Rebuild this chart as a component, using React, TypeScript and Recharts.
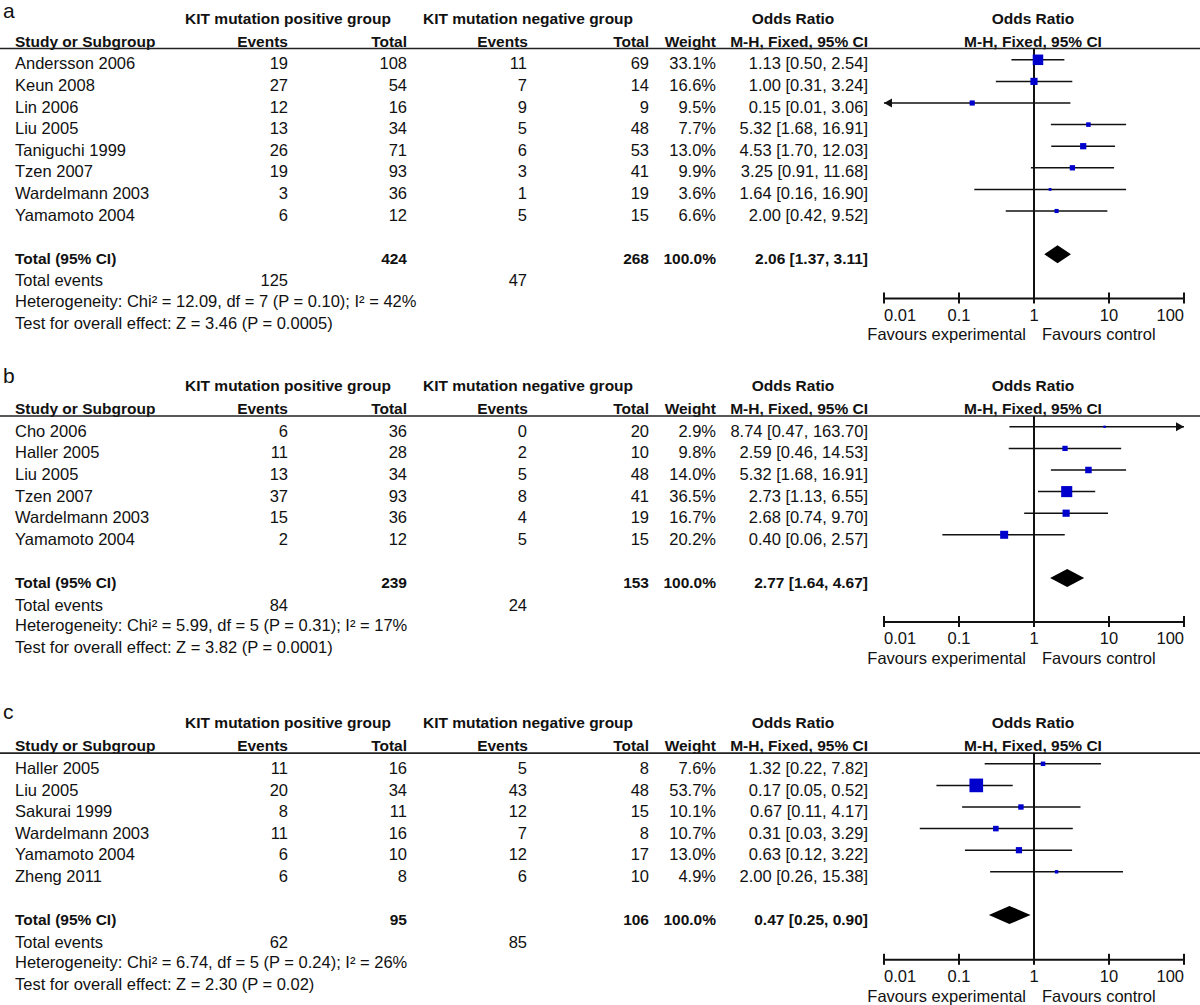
import React from 'react';
import {
  ScatterChart,
  Scatter,
  XAxis,
  YAxis,
  ReferenceLine,
  ReferenceArea,
  ReferenceDot,
} from 'recharts';

// ---------------- DATA ----------------
const AXIS_TICKS = [0.01, 0.1, 1, 10, 100];

// Panel a
const STUDIES_A = ['Andersson 2006', 'Keun 2008', 'Lin 2006', 'Liu 2005', 'Taniguchi 1999', 'Tzen 2007', 'Wardelmann 2003', 'Yamamoto 2004'];
const POS_EVENTS_A = [19, 27, 12, 13, 26, 19, 3, 6];
const POS_TOTAL_A = [108, 54, 16, 34, 71, 93, 36, 12];
const NEG_EVENTS_A = [11, 7, 9, 5, 6, 3, 1, 5];
const NEG_TOTAL_A = [69, 14, 9, 48, 53, 41, 19, 15];
const WEIGHT_A = [33.1, 16.6, 9.5, 7.7, 13.0, 9.9, 3.6, 6.6];
const OR_A = [1.13, 1.0, 0.15, 5.32, 4.53, 3.25, 1.64, 2.0];
const LO_A = [0.5, 0.31, 0.01, 1.68, 1.7, 0.91, 0.16, 0.42];
const HI_A = [2.54, 3.24, 3.06, 16.91, 12.03, 11.68, 16.9, 9.52];
const TOTALS_A = [424, 268];
const TOTAL_EVENTS_A = [125, 47];
const POOLED_A = [2.06, 1.37, 3.11];
const HETERO_A = 'Heterogeneity: Chi\u00B2 = 12.09, df = 7 (P = 0.10); I\u00B2 = 42%';
const EFFECT_A = 'Test for overall effect: Z = 3.46 (P = 0.0005)';

// Panel b
const STUDIES_B = ['Cho 2006', 'Haller 2005', 'Liu 2005', 'Tzen 2007', 'Wardelmann 2003', 'Yamamoto 2004'];
const POS_EVENTS_B = [6, 11, 13, 37, 15, 2];
const POS_TOTAL_B = [36, 28, 34, 93, 36, 12];
const NEG_EVENTS_B = [0, 2, 5, 8, 4, 5];
const NEG_TOTAL_B = [20, 10, 48, 41, 19, 15];
const WEIGHT_B = [2.9, 9.8, 14.0, 36.5, 16.7, 20.2];
const OR_B = [8.74, 2.59, 5.32, 2.73, 2.68, 0.4];
const LO_B = [0.47, 0.46, 1.68, 1.13, 0.74, 0.06];
const HI_B = [163.7, 14.53, 16.91, 6.55, 9.7, 2.57];
const TOTALS_B = [239, 153];
const TOTAL_EVENTS_B = [84, 24];
const POOLED_B = [2.77, 1.64, 4.67];
const HETERO_B = 'Heterogeneity: Chi\u00B2 = 5.99, df = 5 (P = 0.31); I\u00B2 = 17%';
const EFFECT_B = 'Test for overall effect: Z = 3.82 (P = 0.0001)';

// Panel c
const STUDIES_C = ['Haller 2005', 'Liu 2005', 'Sakurai 1999', 'Wardelmann 2003', 'Yamamoto 2004', 'Zheng 2011'];
const POS_EVENTS_C = [11, 20, 8, 11, 6, 6];
const POS_TOTAL_C = [16, 34, 11, 16, 10, 8];
const NEG_EVENTS_C = [5, 43, 12, 7, 12, 6];
const NEG_TOTAL_C = [8, 48, 15, 8, 17, 10];
const WEIGHT_C = [7.6, 53.7, 10.1, 10.7, 13.0, 4.9];
const OR_C = [1.32, 0.17, 0.67, 0.31, 0.63, 2.0];
const LO_C = [0.22, 0.05, 0.11, 0.03, 0.12, 0.26];
const HI_C = [7.82, 0.52, 4.17, 3.29, 3.22, 15.38];
const TOTALS_C = [95, 106];
const TOTAL_EVENTS_C = [62, 85];
const POOLED_C = [0.47, 0.25, 0.9];
const HETERO_C = 'Heterogeneity: Chi\u00B2 = 6.74, df = 5 (P = 0.24); I\u00B2 = 26%';
const EFFECT_C = 'Test for overall effect: Z = 2.30 (P = 0.02)';

// ---------------- LAYOUT ----------------
const PITCH = 21.6;
const X_MIN = 0.01;
const X_MAX = 100;
const FONT = '"Liberation Sans", Arial, Helvetica, sans-serif';
const TXT = '#111';
const BLUE = '#0000CC';
const REG = 16.5;
const BOLD = 15.5;

const COL = {
  name: 15,
  posEv: 288,
  posTot: 407,
  negEv: 527,
  negTot: 649,
  weight: 716,
  ci: 868,
  posHead: 288,
  negHead: 528,
  orHead: 793,
  plotHead: 1033,
};

type Panel = {
  letter: string;
  letterY: number;
  top: number;
  axisY: number;
  studies: string[];
  posEv: number[];
  posTot: number[];
  negEv: number[];
  negTot: number[];
  weight: number[];
  or: number[];
  lo: number[];
  hi: number[];
  totals: number[];
  totalEvents: number[];
  pooled: number[];
  hetero: string;
  effect: string;
};

const PANELS: Panel[] = [
  { letter: 'a', letterY: 18, top: 18, axisY: 298, studies: STUDIES_A, posEv: POS_EVENTS_A, posTot: POS_TOTAL_A, negEv: NEG_EVENTS_A, negTot: NEG_TOTAL_A, weight: WEIGHT_A, or: OR_A, lo: LO_A, hi: HI_A, totals: TOTALS_A, totalEvents: TOTAL_EVENTS_A, pooled: POOLED_A, hetero: HETERO_A, effect: EFFECT_A },
  { letter: 'b', letterY: 383, top: 385.5, axisY: 622, studies: STUDIES_B, posEv: POS_EVENTS_B, posTot: POS_TOTAL_B, negEv: NEG_EVENTS_B, negTot: NEG_TOTAL_B, weight: WEIGHT_B, or: OR_B, lo: LO_B, hi: HI_B, totals: TOTALS_B, totalEvents: TOTAL_EVENTS_B, pooled: POOLED_B, hetero: HETERO_B, effect: EFFECT_B },
  { letter: 'c', letterY: 719, top: 722.7, axisY: 960, studies: STUDIES_C, posEv: POS_EVENTS_C, posTot: POS_TOTAL_C, negEv: NEG_EVENTS_C, negTot: NEG_TOTAL_C, weight: WEIGHT_C, or: OR_C, lo: LO_C, hi: HI_C, totals: TOTALS_C, totalEvents: TOTAL_EVENTS_C, pooled: POOLED_C, hetero: HETERO_C, effect: EFFECT_C },
];

const f2 = (v: number) => v.toFixed(2);
const ciText = (o: number, l: number, h: number) => `${f2(o)} [${f2(l)}, ${f2(h)}]`;
const firstRowOf = (p: Panel) => p.top + 41.3;

// ---------------- TEXT LAYER ----------------
function T(props: any) {
  const { x, y, anchor = 'start', bold = false, size, children } = props;
  return (
    <text
      x={x}
      y={y}
      textAnchor={anchor}
      fontFamily={FONT}
      fontSize={size ?? (bold ? BOLD : REG)}
      fontWeight={bold ? 'bold' : 'normal'}
      fill={TXT}
    >
      {children}
    </text>
  );
}

function PanelText({ p }: { p: Panel }) {
  const r0 = firstRowOf(p);
  const rowBase = (i: number) => r0 + i * PITCH + 10;
  const h1 = p.top + 5.5;
  const h2 = p.top + 23 + 5.5;
  const lineY = p.top + 30.5;
  const n = p.studies.length;
  const tRow = rowBase(n + 1);
  return (
    <g>
      <T x={3} y={p.letterY} size={21}>{p.letter}</T>
      <T x={COL.posHead} y={h1} anchor="middle" bold>KIT mutation positive group</T>
      <T x={COL.negHead} y={h1} anchor="middle" bold>KIT mutation negative group</T>
      <T x={COL.orHead} y={h1} anchor="middle" bold>Odds Ratio</T>
      <T x={COL.plotHead} y={h1} anchor="middle" bold>Odds Ratio</T>
      <T x={COL.name} y={h2} bold>Study or Subgroup</T>
      <T x={COL.posEv} y={h2} anchor="end" bold>Events</T>
      <T x={COL.posTot} y={h2} anchor="end" bold>Total</T>
      <T x={COL.negEv + 1} y={h2} anchor="end" bold>Events</T>
      <T x={COL.negTot} y={h2} anchor="end" bold>Total</T>
      <T x={COL.weight} y={h2} anchor="end" bold>Weight</T>
      <T x={COL.ci} y={h2} anchor="end" bold>M-H, Fixed, 95% CI</T>
      <T x={COL.plotHead} y={h2} anchor="middle" bold>M-H, Fixed, 95% CI</T>
      <line x1={0} x2={1200} y1={lineY} y2={lineY} stroke="#222" strokeWidth={1.7} />
      {p.studies.map((s, i) => (
        <g key={s}>
          <T x={COL.name} y={rowBase(i)}>{s}</T>
          <T x={COL.posEv} y={rowBase(i)} anchor="end">{p.posEv[i]}</T>
          <T x={COL.posTot} y={rowBase(i)} anchor="end">{p.posTot[i]}</T>
          <T x={COL.negEv} y={rowBase(i)} anchor="end">{p.negEv[i]}</T>
          <T x={COL.negTot} y={rowBase(i)} anchor="end">{p.negTot[i]}</T>
          <T x={COL.weight} y={rowBase(i)} anchor="end">{p.weight[i].toFixed(1)}%</T>
          <T x={COL.ci} y={rowBase(i)} anchor="end">{ciText(p.or[i], p.lo[i], p.hi[i])}</T>
        </g>
      ))}
      <T x={COL.name} y={tRow} bold>Total (95% CI)</T>
      <T x={COL.posTot} y={tRow} anchor="end" bold>{p.totals[0]}</T>
      <T x={COL.negTot} y={tRow} anchor="end" bold>{p.totals[1]}</T>
      <T x={COL.weight} y={tRow} anchor="end" bold>100.0%</T>
      <T x={COL.ci} y={tRow} anchor="end" bold>{ciText(p.pooled[0], p.pooled[1], p.pooled[2])}</T>
      <T x={COL.name} y={rowBase(n + 2) + 1}>Total events</T>
      <T x={COL.posEv} y={rowBase(n + 2) + 1} anchor="end">{p.totalEvents[0]}</T>
      <T x={COL.negEv} y={rowBase(n + 2) + 1} anchor="end">{p.totalEvents[1]}</T>
      <T x={COL.name} y={rowBase(n + 3)}>{p.hetero}</T>
      <T x={COL.name} y={rowBase(n + 4)}>{p.effect}</T>
      <T x={1026} y={p.axisY + 42} anchor="end">Favours experimental</T>
      <T x={1042} y={p.axisY + 42}>Favours control</T>
    </g>
  );
}

// ---------------- CHART LAYER ----------------
const AxisTick = (props: any) => {
  const { x, y, payload } = props;
  const v = payload.value;
  const anchor = v <= X_MIN ? 'start' : v >= X_MAX ? 'end' : 'middle';
  return (
    <g>
      <line x1={x} x2={x} y1={y - 6} y2={y + 5} stroke={TXT} strokeWidth={2} />
      <text x={x} y={y + 22} textAnchor={anchor} fontFamily={FONT} fontSize={REG} fill={TXT}>
        {String(v)}
      </text>
    </g>
  );
};

const Square = (props: any) => {
  const { cx, cy, payload } = props;
  const s = Math.max(2, 2 * Math.sqrt(payload.w) - 1);
  return <rect x={cx - s / 2} y={cy - s / 2} width={s} height={s} fill={BLUE} />;
};

const clampX = (v: number) => Math.min(X_MAX, Math.max(X_MIN, v));

function ForestChart({ p }: { p: Panel }) {
  const r0 = firstRowOf(p);
  const plotTop = r0 - 0.5 * PITCH;
  const D = (p.axisY - r0) / PITCH;
  const plotH = p.axisY - plotTop;
  const AX_H = 50;
  const height = plotH + AX_H;
  const n = p.studies.length;
  const points = p.studies.map((s, i) => ({ or: p.or[i], row: i, w: p.weight[i], name: s }));
  const totalRow = n + 1;
  const [po, pl, ph] = p.pooled;
  const frac = (Math.log(po) - Math.log(pl)) / (Math.log(ph) - Math.log(pl));

  return (
    <div style={{ position: 'absolute', left: 0, top: plotTop, width: 1200, height }}>
      <ScatterChart width={1200} height={height} margin={{ top: 0, right: 16, bottom: 0, left: 884 }}>
        <XAxis
          type="number"
          dataKey="or"
          scale="log"
          domain={[X_MIN, X_MAX]}
          ticks={AXIS_TICKS}
          allowDataOverflow
          interval={0}
          height={AX_H}
          axisLine={{ stroke: TXT, strokeWidth: 2 }}
          tickLine={false}
          tickSize={0}
          tickMargin={0}
          tick={<AxisTick />}
        />
        <YAxis type="number" dataKey="row" domain={[-0.5, D]} reversed hide allowDataOverflow width={0} />
        <ReferenceLine x={1} stroke={TXT} strokeWidth={2} ifOverflow="visible" />
        {points.map((d, i) => (
          <ReferenceLine
            key={'ci' + i}
            segment={[
              { x: clampX(p.lo[i]), y: i },
              { x: clampX(p.hi[i]), y: i },
            ]}
            stroke={TXT}
            strokeWidth={1.5}
            ifOverflow="visible"
          />
        ))}
        {points.map((d, i) =>
          p.lo[i] <= X_MIN ? (
            <ReferenceDot
              key={'la' + i}
              x={X_MIN}
              y={i}
              ifOverflow="visible"
              shape={(sp: any) => (
                <polygon
                  points={`${sp.cx},${sp.cy} ${sp.cx + 8},${sp.cy - 4.5} ${sp.cx + 8},${sp.cy + 4.5}`}
                  fill={TXT}
                />
              )}
            />
          ) : null
        )}
        {points.map((d, i) =>
          p.hi[i] >= X_MAX ? (
            <ReferenceDot
              key={'ra' + i}
              x={X_MAX}
              y={i}
              ifOverflow="visible"
              shape={(sp: any) => (
                <polygon
                  points={`${sp.cx},${sp.cy} ${sp.cx - 8},${sp.cy - 4.5} ${sp.cx - 8},${sp.cy + 4.5}`}
                  fill={TXT}
                />
              )}
            />
          ) : null
        )}
        <ReferenceArea
          x1={pl}
          x2={ph}
          y1={totalRow - 0.42}
          y2={totalRow + 0.42}
          ifOverflow="visible"
          shape={(sp: any) => {
            const { x, y, width, height: h } = sp;
            const cx = x + width * frac;
            return (
              <polygon
                points={`${x},${y + h / 2} ${cx},${y} ${x + width},${y + h / 2} ${cx},${y + h}`}
                fill="#000"
              />
            );
          }}
        />
        <Scatter data={points} shape={Square} isAnimationActive={false} />
      </ScatterChart>
    </div>
  );
}

export default function App() {
  return (
    <div style={{ position: 'relative', width: 1200, height: 1005, background: '#fff', overflow: 'hidden' }}>
      <style>{'body{margin:0;background:#fff;}'}</style>
      <svg width={1200} height={1005} style={{ position: 'absolute', left: 0, top: 0 }}>
        {PANELS.map((p) => (
          <PanelText key={p.letter} p={p} />
        ))}
      </svg>
      {PANELS.map((p) => (
        <ForestChart key={p.letter} p={p} />
      ))}
    </div>
  );
}
